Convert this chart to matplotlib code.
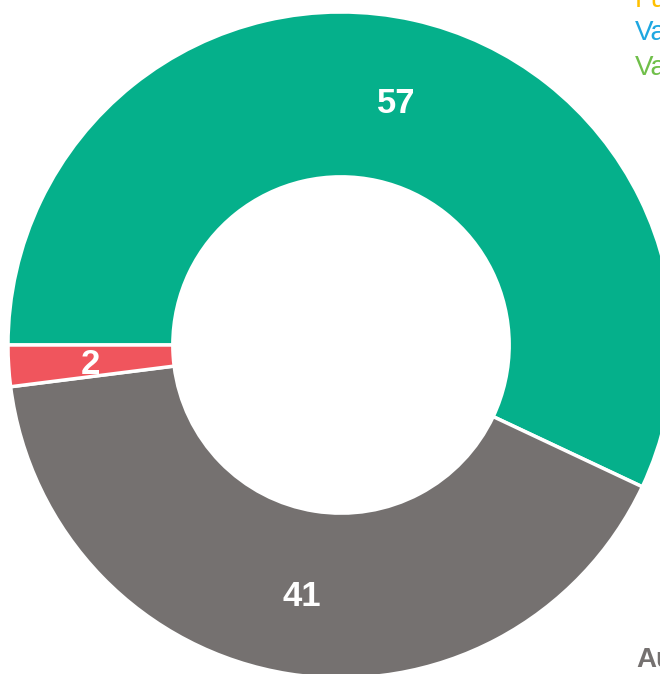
import matplotlib
matplotlib.use("Agg")
import matplotlib.pyplot as plt

plt.rcParams['font.family'] = ['Liberation Sans', 'DejaVu Sans']

categories = ["Favorable", "Desfavorable", "Neutral"]
values = [57, 41, 2]
colors = ["#05B08B", "#757170", "#F0555D"]
legend_labels = ["Fu", "Va", "Va"]
legend_colors = ["#FFC000", "#1EA7E1", "#70BF4A"]

W, H = 660, 674
fig = plt.figure(figsize=(W / 100, H / 100), dpi=100)
cx, cy, R = 341, 345, 333
ax = fig.add_axes([(cx - R) / W, (H - cy - R) / H, 2 * R / W, 2 * R / H])

wedges, texts = ax.pie(values, colors=colors, startangle=180, counterclock=False,
                       radius=1, labels=[str(v) for v in values], labeldistance=0.754,
                       wedgeprops=dict(width=0.495, edgecolor='white', linewidth=2.5),
                       textprops=dict(color='white', fontsize=25, fontweight='bold'))
for t in texts:
    t.set_ha('center')
    t.set_va('center_baseline')
ax.set_xlim(-1, 1)
ax.set_ylim(-1, 1)
ax.set_aspect('equal')
ax.axis('off')

# partial legend at top right (cut off by the figure edge, as in the reference)
baselines = [7, 40, 75]
for lab, col, yb in zip(legend_labels, legend_colors, baselines):
    fig.text(635 / W, 1 - yb / H, lab, color=col, fontsize=20,
             ha='left', va='baseline')

fig.text(636 / W, 1 - 667 / H, "Au", color="#757170", fontsize=20, fontweight='bold',
         ha='left', va='baseline')

fig.savefig("out.png", dpi=100)
